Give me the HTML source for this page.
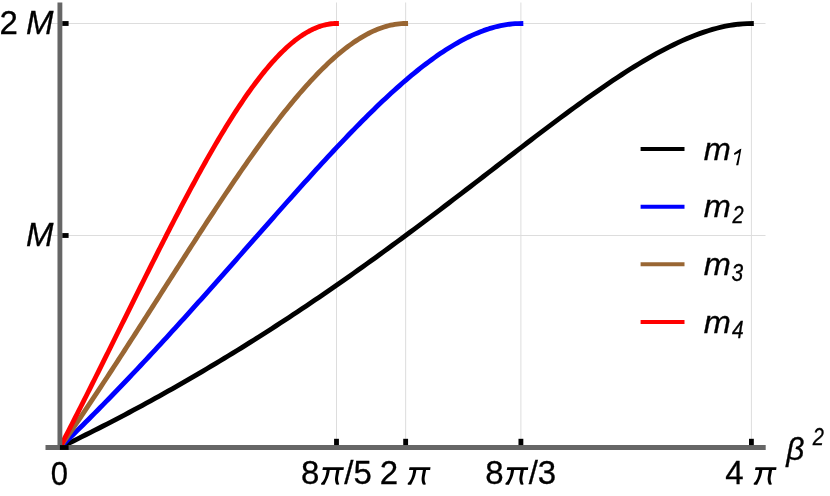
<!DOCTYPE html>
<html><head><meta charset="utf-8"><title>chart</title>
<style>
html,body{margin:0;padding:0;background:#fff;}
body{width:830px;height:496px;overflow:hidden;}
svg{display:block;will-change:transform;}
text{font-family:"Liberation Sans",sans-serif;fill:#000;stroke:#000;stroke-width:0.3px;}
.i{font-style:italic;}
.h{visibility:hidden;}
</style></head><body>
<svg width="830" height="496" viewBox="0 0 830 496">
<defs><path id="pi" fill="#000" d="M1.83 -17.56H22.81L22.44 -14.83H18.35C17.9 -11.5 16.9 -8 16.88 -6.02C16.9 -4 17.5 -2 18.24 -0.52L17 0L15.2 -0.26C14.3 -2 13.85 -4 13.89 -6.02C14 -8.5 14.8 -12 15.2 -14.83H8.65C8.2 -11 7.2 -7.5 5.6 -4.5C4.9 -3 4.2 -1.5 3.4 0H0.1L0 -1.57C1.5 -2.8 2.6 -4.3 3.4 -6.02C4.5 -8.5 5.1 -11.5 5.5 -14.83H1.31Z"/><path id="one" fill="#000" d="M7.34 -16.5L4.3 0H2.1L5.08 -12.68L0.37 -10.38L0 -12.05L6.13 -16.24Z"/><clipPath id="cl"><rect x="0" y="0" width="830" height="449"/></clipPath></defs>
<rect width="830" height="496" fill="#fff"/>
<g stroke="#dddddd" stroke-width="1" fill="none">
<line x1="336.50" y1="2.5" x2="336.50" y2="447.50"/>
<line x1="405.65" y1="2.5" x2="405.65" y2="447.50"/>
<line x1="520.90" y1="2.5" x2="520.90" y2="447.50"/>
<line x1="751.40" y1="2.5" x2="751.40" y2="447.50"/>
<line x1="52" y1="235.50" x2="765.5" y2="235.50"/>
<line x1="52" y1="23.50" x2="765.5" y2="23.50"/>
</g>
<g fill="none" stroke-width="4.85" stroke-linecap="square" stroke-linejoin="round" clip-path="url(#cl)">
<path stroke="#000000" d="M59.90 447.50 L64.22 445.41 L68.54 443.31 L72.87 441.20 L77.19 439.07 L81.51 436.93 L85.83 434.78 L90.15 432.61 L94.47 430.43 L98.80 428.23 L103.12 426.02 L107.44 423.80 L111.76 421.57 L116.08 419.32 L120.41 417.05 L124.73 414.78 L129.05 412.49 L133.37 410.18 L137.69 407.86 L142.02 405.53 L146.34 403.18 L150.66 400.82 L154.98 398.44 L159.30 396.05 L163.62 393.64 L167.95 391.22 L172.27 388.79 L176.59 386.34 L180.91 383.88 L185.23 381.40 L189.56 378.90 L193.88 376.40 L198.20 373.87 L202.52 371.34 L206.84 368.78 L211.17 366.21 L215.49 363.63 L219.81 361.03 L224.13 358.42 L228.45 355.79 L232.78 353.15 L237.10 350.49 L241.42 347.82 L245.74 345.13 L250.06 342.43 L254.38 339.71 L258.71 336.98 L263.03 334.23 L267.35 331.47 L271.67 328.69 L275.99 325.90 L280.32 323.09 L284.64 320.26 L288.96 317.43 L293.28 314.57 L297.60 311.71 L301.93 308.82 L306.25 305.93 L310.57 303.01 L314.89 300.09 L319.21 297.15 L323.53 294.19 L327.86 291.22 L332.18 288.24 L336.50 285.24 L340.82 282.23 L345.14 279.21 L349.47 276.17 L353.79 273.11 L358.11 270.05 L362.43 266.97 L366.75 263.88 L371.07 260.77 L375.40 257.66 L379.72 254.53 L384.04 251.38 L388.36 248.23 L392.68 245.06 L397.01 241.89 L401.33 238.70 L405.65 235.50 L409.97 232.29 L414.29 229.07 L418.62 225.84 L422.94 222.60 L427.26 219.35 L431.58 216.10 L435.90 212.83 L440.22 209.56 L444.55 206.28 L448.87 202.99 L453.19 199.69 L457.51 196.39 L461.83 193.09 L466.16 189.77 L470.48 186.46 L474.80 183.14 L479.12 179.82 L483.44 176.49 L487.77 173.17 L492.09 169.84 L496.41 166.51 L500.73 163.18 L505.05 159.86 L509.38 156.53 L513.70 153.21 L518.02 149.90 L522.34 146.58 L526.66 143.28 L530.98 139.98 L535.31 136.69 L539.63 133.40 L543.95 130.13 L548.27 126.87 L552.59 123.62 L556.92 120.39 L561.24 117.17 L565.56 113.97 L569.88 110.78 L574.20 107.62 L578.52 104.48 L582.85 101.36 L587.17 98.26 L591.49 95.19 L595.81 92.15 L600.13 89.14 L604.46 86.16 L608.78 83.21 L613.10 80.31 L617.42 77.43 L621.74 74.60 L626.07 71.82 L630.39 69.07 L634.71 66.38 L639.03 63.73 L643.35 61.14 L647.67 58.60 L652.00 56.12 L656.32 53.71 L660.64 51.36 L664.96 49.07 L669.28 46.86 L673.61 44.72 L677.93 42.66 L682.25 40.67 L686.57 38.78 L690.89 36.97 L695.22 35.26 L699.54 33.64 L703.86 32.13 L708.18 30.72 L712.50 29.42 L716.82 28.24 L721.15 27.17 L725.47 26.23 L729.79 25.42 L734.11 24.74 L738.43 24.21 L742.76 23.82 L747.08 23.58 L751.40 23.50"/>
<path stroke="#0000ff" d="M59.90 447.50 L62.78 444.72 L65.66 441.93 L68.54 439.12 L71.42 436.31 L74.31 433.48 L77.19 430.64 L80.07 427.79 L82.95 424.93 L85.83 422.06 L88.71 419.18 L91.59 416.29 L94.47 413.38 L97.36 410.47 L100.24 407.54 L103.12 404.60 L106.00 401.66 L108.88 398.70 L111.76 395.73 L114.64 392.75 L117.53 389.77 L120.41 386.77 L123.29 383.76 L126.17 380.74 L129.05 377.71 L131.93 374.67 L134.81 371.63 L137.69 368.57 L140.57 365.50 L143.46 362.43 L146.34 359.35 L149.22 356.25 L152.10 353.15 L154.98 350.04 L157.86 346.92 L160.74 343.80 L163.62 340.66 L166.51 337.52 L169.39 334.37 L172.27 331.21 L175.15 328.05 L178.03 324.87 L180.91 321.69 L183.79 318.51 L186.67 315.32 L189.56 312.12 L192.44 308.91 L195.32 305.70 L198.20 302.48 L201.08 299.26 L203.96 296.03 L206.84 292.80 L209.72 289.56 L212.61 286.32 L215.49 283.08 L218.37 279.83 L221.25 276.58 L224.13 273.32 L227.01 270.06 L229.89 266.80 L232.77 263.53 L235.66 260.27 L238.54 257.00 L241.42 253.73 L244.30 250.46 L247.18 247.19 L250.06 243.91 L252.94 240.64 L255.82 237.37 L258.71 234.10 L261.59 230.83 L264.47 227.56 L267.35 224.29 L270.23 221.03 L273.11 217.77 L275.99 214.51 L278.88 211.25 L281.76 208.00 L284.64 204.76 L287.52 201.51 L290.40 198.28 L293.28 195.05 L296.16 191.83 L299.04 188.61 L301.93 185.40 L304.81 182.20 L307.69 179.01 L310.57 175.82 L313.45 172.65 L316.33 169.49 L319.21 166.34 L322.09 163.20 L324.97 160.07 L327.86 156.95 L330.74 153.85 L333.62 150.76 L336.50 147.69 L339.38 144.63 L342.26 141.59 L345.14 138.56 L348.02 135.55 L350.91 132.56 L353.79 129.59 L356.67 126.64 L359.55 123.71 L362.43 120.80 L365.31 117.92 L368.19 115.05 L371.07 112.21 L373.96 109.40 L376.84 106.61 L379.72 103.84 L382.60 101.10 L385.48 98.40 L388.36 95.72 L391.24 93.07 L394.12 90.45 L397.01 87.86 L399.89 85.31 L402.77 82.79 L405.65 80.31 L408.53 77.86 L411.41 75.45 L414.29 73.07 L417.17 70.74 L420.06 68.44 L422.94 66.19 L425.82 63.98 L428.70 61.82 L431.58 59.70 L434.46 57.62 L437.34 55.59 L440.22 53.61 L443.11 51.68 L445.99 49.81 L448.87 47.98 L451.75 46.21 L454.63 44.49 L457.51 42.83 L460.39 41.23 L463.27 39.69 L466.16 38.20 L469.04 36.78 L471.92 35.42 L474.80 34.13 L477.68 32.90 L480.56 31.74 L483.44 30.65 L486.32 29.64 L489.21 28.69 L492.09 27.82 L494.97 27.02 L497.85 26.30 L500.73 25.66 L503.61 25.09 L506.49 24.61 L509.38 24.22 L512.26 23.91 L515.14 23.68 L518.02 23.55 L520.90 23.50"/>
<path stroke="#996633" d="M59.90 447.50 L62.06 444.37 L64.22 441.24 L66.38 438.09 L68.54 434.94 L70.70 431.77 L72.87 428.60 L75.03 425.41 L77.19 422.22 L79.35 419.02 L81.51 415.81 L83.67 412.60 L85.83 409.37 L87.99 406.14 L90.15 402.90 L92.31 399.65 L94.47 396.39 L96.64 393.13 L98.80 389.86 L100.96 386.58 L103.12 383.29 L105.28 380.00 L107.44 376.71 L109.60 373.40 L111.76 370.09 L113.92 366.77 L116.08 363.45 L118.25 360.12 L120.41 356.79 L122.57 353.45 L124.73 350.11 L126.89 346.77 L129.05 343.41 L131.21 340.06 L133.37 336.70 L135.53 333.34 L137.69 329.97 L139.85 326.60 L142.02 323.23 L144.18 319.85 L146.34 316.48 L148.50 313.10 L150.66 309.72 L152.82 306.33 L154.98 302.95 L157.14 299.57 L159.30 296.18 L161.46 292.79 L163.62 289.41 L165.79 286.02 L167.95 282.64 L170.11 279.25 L172.27 275.87 L174.43 272.49 L176.59 269.11 L178.75 265.73 L180.91 262.36 L183.07 258.99 L185.23 255.62 L187.40 252.26 L189.56 248.89 L191.72 245.54 L193.88 242.19 L196.04 238.84 L198.20 235.50 L200.36 232.17 L202.52 228.84 L204.68 225.51 L206.84 222.20 L209.00 218.89 L211.17 215.59 L213.33 212.30 L215.49 209.02 L217.65 205.75 L219.81 202.49 L221.97 199.23 L224.13 195.99 L226.29 192.76 L228.45 189.54 L230.61 186.33 L232.78 183.14 L234.94 179.96 L237.10 176.79 L239.26 173.64 L241.42 170.50 L243.58 167.37 L245.74 164.27 L247.90 161.17 L250.06 158.10 L252.22 155.04 L254.38 152.00 L256.55 148.98 L258.71 145.97 L260.87 142.99 L263.03 140.03 L265.19 137.08 L267.35 134.16 L269.51 131.26 L271.67 128.38 L273.83 125.53 L275.99 122.70 L278.15 119.89 L280.32 117.11 L282.48 114.35 L284.64 111.62 L286.80 108.92 L288.96 106.24 L291.12 103.60 L293.28 100.98 L295.44 98.39 L297.60 95.83 L299.76 93.30 L301.93 90.81 L304.09 88.34 L306.25 85.91 L308.41 83.52 L310.57 81.16 L312.73 78.83 L314.89 76.54 L317.05 74.28 L319.21 72.07 L321.37 69.89 L323.53 67.75 L325.70 65.65 L327.86 63.59 L330.02 61.57 L332.18 59.60 L334.34 57.66 L336.50 55.78 L338.66 53.93 L340.82 52.13 L342.98 50.38 L345.14 48.67 L347.30 47.02 L349.47 45.41 L351.63 43.85 L353.79 42.34 L355.95 40.88 L358.11 39.47 L360.27 38.12 L362.43 36.82 L364.59 35.58 L366.75 34.39 L368.91 33.25 L371.07 32.18 L373.24 31.16 L375.40 30.20 L377.56 29.31 L379.72 28.47 L381.88 27.69 L384.04 26.98 L386.20 26.33 L388.36 25.75 L390.52 25.23 L392.68 24.77 L394.85 24.39 L397.01 24.07 L399.17 23.82 L401.33 23.64 L403.49 23.54 L405.65 23.50"/>
<path stroke="#ff0000" d="M59.90 447.50 L61.63 444.17 L63.36 440.82 L65.09 437.47 L66.81 434.11 L68.54 430.75 L70.27 427.38 L72.00 424.00 L73.73 420.61 L75.46 417.21 L77.19 413.81 L78.92 410.41 L80.64 406.99 L82.37 403.57 L84.10 400.15 L85.83 396.72 L87.56 393.28 L89.29 389.84 L91.02 386.39 L92.75 382.94 L94.47 379.49 L96.20 376.03 L97.93 372.56 L99.66 369.09 L101.39 365.62 L103.12 362.15 L104.85 358.67 L106.58 355.19 L108.31 351.71 L110.03 348.23 L111.76 344.74 L113.49 341.25 L115.22 337.76 L116.95 334.27 L118.68 330.78 L120.41 327.29 L122.13 323.79 L123.86 320.30 L125.59 316.81 L127.32 313.32 L129.05 309.83 L130.78 306.34 L132.51 302.85 L134.24 299.36 L135.97 295.88 L137.69 292.40 L139.42 288.92 L141.15 285.45 L142.88 281.97 L144.61 278.51 L146.34 275.04 L148.07 271.58 L149.79 268.13 L151.52 264.68 L153.25 261.24 L154.98 257.80 L156.71 254.37 L158.44 250.95 L160.17 247.53 L161.90 244.12 L163.62 240.72 L165.35 237.32 L167.08 233.94 L168.81 230.56 L170.54 227.20 L172.27 223.84 L174.00 220.49 L175.73 217.16 L177.45 213.83 L179.18 210.52 L180.91 207.22 L182.64 203.93 L184.37 200.65 L186.10 197.39 L187.83 194.14 L189.56 190.91 L191.28 187.69 L193.01 184.48 L194.74 181.29 L196.47 178.12 L198.20 174.96 L199.93 171.82 L201.66 168.69 L203.39 165.59 L205.12 162.50 L206.84 159.43 L208.57 156.38 L210.30 153.35 L212.03 150.34 L213.76 147.36 L215.49 144.39 L217.22 141.44 L218.95 138.52 L220.67 135.62 L222.40 132.74 L224.13 129.89 L225.86 127.06 L227.59 124.26 L229.32 121.48 L231.05 118.73 L232.78 116.00 L234.50 113.31 L236.23 110.63 L237.96 107.99 L239.69 105.38 L241.42 102.79 L243.15 100.24 L244.88 97.72 L246.60 95.22 L248.33 92.76 L250.06 90.33 L251.79 87.94 L253.52 85.58 L255.25 83.25 L256.98 80.95 L258.71 78.70 L260.44 76.47 L262.16 74.29 L263.89 72.14 L265.62 70.02 L267.35 67.95 L269.08 65.92 L270.81 63.92 L272.54 61.96 L274.26 60.05 L275.99 58.18 L277.72 56.34 L279.45 54.56 L281.18 52.81 L282.91 51.11 L284.64 49.45 L286.37 47.84 L288.09 46.27 L289.82 44.75 L291.55 43.27 L293.28 41.85 L295.01 40.47 L296.74 39.14 L298.47 37.86 L300.20 36.63 L301.93 35.45 L303.65 34.32 L305.38 33.25 L307.11 32.23 L308.84 31.26 L310.57 30.34 L312.30 29.48 L314.03 28.67 L315.75 27.92 L317.48 27.23 L319.21 26.59 L320.94 26.01 L322.67 25.49 L324.40 25.03 L326.13 24.63 L327.86 24.29 L329.58 24.00 L331.31 23.78 L333.04 23.63 L334.77 23.53 L336.50 23.50"/>
</g>
<g stroke="#666666" stroke-width="4.85" fill="none">
<line x1="59.90" y1="2.5" x2="59.90" y2="449.93"/>
<line x1="45.5" y1="447.50" x2="765.7" y2="447.50"/>
</g>
<g stroke="#000" stroke-width="4.85" fill="none">
<line x1="336.50" y1="445.07" x2="336.50" y2="438.80"/>
<line x1="405.65" y1="445.07" x2="405.65" y2="438.80"/>
<line x1="520.90" y1="445.07" x2="520.90" y2="438.80"/>
<line x1="751.40" y1="445.07" x2="751.40" y2="438.80"/>
<line x1="59.90" y1="447.50" x2="68.6" y2="447.50"/>
<line x1="62.32" y1="235.50" x2="68.6" y2="235.50"/>
<line x1="62.32" y1="23.50" x2="68.6" y2="23.50"/>
</g>
<g stroke-width="4" fill="none">
<line x1="640.6" y1="148.97" x2="684.5" y2="148.97" stroke="#000000"/>
<line x1="640.6" y1="206.64" x2="684.5" y2="206.64" stroke="#0000ff"/>
<line x1="640.6" y1="264.30" x2="684.5" y2="264.30" stroke="#996633"/>
<line x1="640.6" y1="321.97" x2="684.5" y2="321.97" stroke="#ff0000"/>
</g>
<text class="i" transform="translate(703.7 159.65) scale(0.985 0.945)" font-size="33.00">m</text>
<text class="i h" x="734" y="165.20" font-size="23.00">1</text><use href="#one" x="734.0" y="165.35"/>
<text class="i" transform="translate(703.7 217.32) scale(0.985 0.945)" font-size="33.00">m</text>
<text class="i" transform="translate(732.40 222.87) scale(0.870 1)" font-size="23.00">2</text>
<text class="i" transform="translate(703.7 274.98) scale(0.985 0.945)" font-size="33.00">m</text>
<text class="i" transform="translate(731.50 280.53) scale(0.910 1)" font-size="23.00">3</text>
<text class="i" transform="translate(703.7 332.65) scale(0.985 0.945)" font-size="33.00">m</text>
<text class="i" transform="translate(731.90 338.20) scale(0.910 1)" font-size="23.00">4</text>
<text transform="translate(59.5 484.70) scale(0.94 1)" font-size="33.00" text-anchor="middle">0</text>
<text y="484.20" font-size="33.00" x="301 321 344.3 353.5">8<tspan class="i h">π</tspan>/5</text>
<use href="#pi" x="321.10" y="484.80"/>
<text y="484.20" font-size="33.00" x="379.7 389 406">2 <tspan class="i h">π</tspan></text>
<use href="#pi" x="407.70" y="484.80"/>
<text y="484.20" font-size="33.00" x="485.3 505.3 528.8 537.8">8<tspan class="i h">π</tspan>/3</text>
<use href="#pi" x="505.45" y="484.80"/>
<text y="484.20" font-size="33.00" x="725.3 745 752.5">4 <tspan class="i h">π</tspan></text>
<use href="#pi" x="753.70" y="484.80"/>
<text class="i" x="786.3" y="459.7" font-size="31.68">β</text>
<text class="i" transform="translate(812.8 444.5) scale(0.87 1)" font-size="23.00">2</text>
<text x="-0.4 10 26.0" y="33.9" font-size="33.00">2 <tspan class="i">M</tspan></text>
<text class="i" x="26.1" y="246.1" font-size="33.00">M</text>
</svg>
</body></html>
